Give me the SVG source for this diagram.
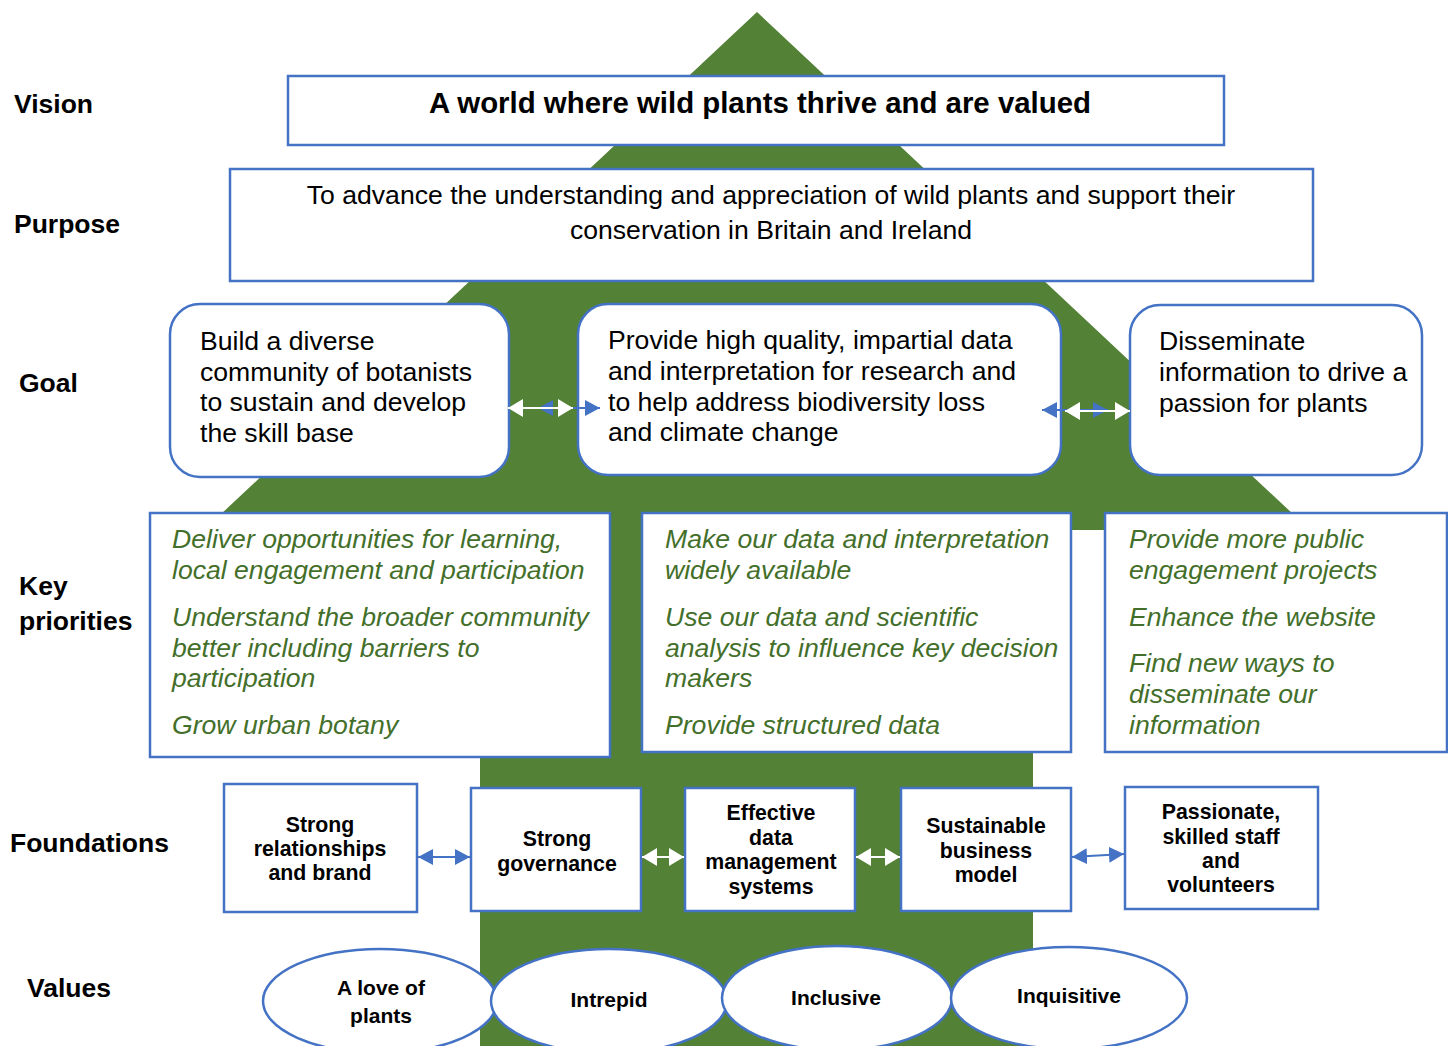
<svg xmlns="http://www.w3.org/2000/svg" width="1448" height="1046" viewBox="0 0 1448 1046">
  <style>
    .box { fill: #ffffff; stroke: #4472C4; stroke-width: 2.5; }
    .lbl { font-family: "Liberation Sans", Arial, sans-serif; font-weight: bold; font-size: 26.5px; fill: #000; }
    .vis { font-family: "Liberation Sans", Arial, sans-serif; font-weight: bold; font-size: 29.4px; fill: #000; text-anchor: middle; }
    .txt { font-family: "Liberation Sans", Arial, sans-serif; font-size: 26.6px; fill: #000; }
    .pri { font-family: "Liberation Sans", Arial, sans-serif; font-style: italic; font-size: 26.6px; fill: #436F2A; }
    .fnd { font-family: "Liberation Sans", Arial, sans-serif; font-weight: bold; font-size: 21.3px; fill: #000; text-anchor: middle; }
    .val { font-family: "Liberation Sans", Arial, sans-serif; font-weight: bold; font-size: 21px; fill: #000; text-anchor: middle; }
    .blue { stroke: #4472C4; stroke-width: 2; fill: none; }
    .white { stroke: #ffffff; stroke-width: 2; fill: none; }
  </style>
  <defs>
    <marker id="headBlue" markerUnits="userSpaceOnUse" markerWidth="16" markerHeight="16" refX="15" refY="8" orient="auto-start-reverse">
      <path d="M0,0 L15,8 L0,16 z" fill="#4472C4"/>
    </marker>
    <marker id="headWhite" markerUnits="userSpaceOnUse" markerWidth="16" markerHeight="18" refX="15" refY="9" orient="auto-start-reverse">
      <path d="M0,0 L15,9 L0,18 z" fill="#ffffff"/>
    </marker>
  </defs>

  <rect width="1448" height="1046" fill="#ffffff"/>

  <!-- tree silhouette: crown and trunk -->
  <polygon id="tree" points="757,12 1310,530 1033,530 1033,1046 480,1046 480,530 204,530" fill="#538135"/>

  <!-- row labels -->
  <g id="labels">
    <text class="lbl" x="14" y="113">Vision</text>
    <text class="lbl" x="14" y="233">Purpose</text>
    <text class="lbl" x="19" y="392">Goal</text>
    <text class="lbl" x="19" y="595">Key</text>
    <text class="lbl" x="19" y="630">priorities</text>
    <text class="lbl" x="10" y="852">Foundations</text>
    <text class="lbl" x="27" y="997">Values</text>
  </g>

  <g id="vision">
    <rect class="box" x="288" y="76" width="936" height="69"/>
    <text class="vis" x="760" y="113">A world where wild plants thrive and are valued</text>
  </g>

  <g id="purpose">
    <rect class="box" x="230" y="169" width="1083" height="112"/>
    <text class="txt" x="771" y="204" text-anchor="middle">To advance the understanding and appreciation of wild plants and support their</text>
    <text class="txt" x="771" y="239" text-anchor="middle">conservation in Britain and Ireland</text>
  </g>

  <g id="goal-community">
    <rect class="box" x="170" y="304" width="339" height="173" rx="30"/>
    <text class="txt" x="200" y="350">Build a diverse</text>
    <text class="txt" x="200" y="381">community of botanists</text>
    <text class="txt" x="200" y="411">to sustain and develop</text>
    <text class="txt" x="200" y="442">the skill base</text>
  </g>

  <g id="goal-data">
    <rect class="box" x="578" y="304" width="483" height="171" rx="30"/>
    <text class="txt" x="608" y="349">Provide high quality, impartial data</text>
    <text class="txt" x="608" y="380">and interpretation for research and</text>
    <text class="txt" x="608" y="411">to help address biodiversity loss</text>
    <text class="txt" x="608" y="441">and climate change</text>
  </g>

  <g id="goal-disseminate">
    <rect class="box" x="1130" y="305" width="292" height="170" rx="30"/>
    <text class="txt" x="1159" y="350">Disseminate</text>
    <text class="txt" x="1159" y="381">information to drive a</text>
    <text class="txt" x="1159" y="412">passion for plants</text>
  </g>

  <g id="priorities-community">
    <rect class="box" x="150" y="513" width="460" height="244"/>
    <text class="pri" x="172" y="548">Deliver opportunities for learning,</text>
    <text class="pri" x="172" y="579">local engagement and participation</text>
    <text class="pri" x="172" y="626">Understand the broader community</text>
    <text class="pri" x="172" y="657">better including barriers to</text>
    <text class="pri" x="172" y="687">participation</text>
    <text class="pri" x="172" y="734">Grow urban botany</text>
  </g>

  <g id="priorities-data">
    <rect class="box" x="642" y="513" width="429" height="239"/>
    <text class="pri" x="665" y="548">Make our data and interpretation</text>
    <text class="pri" x="665" y="579">widely available</text>
    <text class="pri" x="665" y="626">Use our data and scientific</text>
    <text class="pri" x="665" y="657">analysis to influence key decision</text>
    <text class="pri" x="665" y="687">makers</text>
    <text class="pri" x="665" y="734">Provide structured data</text>
  </g>

  <g id="priorities-public">
    <rect class="box" x="1105" y="513" width="342" height="239"/>
    <text class="pri" x="1129" y="548">Provide more public</text>
    <text class="pri" x="1129" y="579">engagement projects</text>
    <text class="pri" x="1129" y="626">Enhance the website</text>
    <text class="pri" x="1129" y="672">Find new ways to</text>
    <text class="pri" x="1129" y="703">disseminate our</text>
    <text class="pri" x="1129" y="734">information</text>
  </g>

  <g id="foundation-relationships">
    <rect class="box" x="224" y="784" width="193" height="128"/>
    <text class="fnd" x="320" y="832">Strong</text>
    <text class="fnd" x="320" y="856">relationships</text>
    <text class="fnd" x="320" y="880">and brand</text>
  </g>

  <g id="foundation-governance">
    <rect class="box" x="471" y="788" width="170" height="123"/>
    <text class="fnd" x="557" y="846">Strong</text>
    <text class="fnd" x="557" y="871">governance</text>
  </g>

  <g id="foundation-data">
    <rect class="box" x="685" y="788" width="170" height="123"/>
    <text class="fnd" x="771" y="820">Effective</text>
    <text class="fnd" x="771" y="845">data</text>
    <text class="fnd" x="771" y="869">management</text>
    <text class="fnd" x="771" y="894">systems</text>
  </g>

  <g id="foundation-business">
    <rect class="box" x="901" y="788" width="170" height="123"/>
    <text class="fnd" x="986" y="833">Sustainable</text>
    <text class="fnd" x="986" y="858">business</text>
    <text class="fnd" x="986" y="882">model</text>
  </g>

  <g id="foundation-people">
    <rect class="box" x="1125" y="787" width="193" height="122"/>
    <text class="fnd" x="1221" y="819">Passionate,</text>
    <text class="fnd" x="1221" y="844">skilled staff</text>
    <text class="fnd" x="1221" y="868">and</text>
    <text class="fnd" x="1221" y="892">volunteers</text>
  </g>

  <g id="value-love">
    <ellipse class="box" cx="380" cy="1001" rx="117" ry="52"/>
    <text class="val" x="381" y="995">A love of</text>
    <text class="val" x="381" y="1023">plants</text>
  </g>

  <g id="value-intrepid">
    <ellipse class="box" cx="609" cy="1001" rx="118" ry="52"/>
    <text class="val" x="609" y="1007">Intrepid</text>
  </g>

  <g id="value-inclusive">
    <ellipse class="box" cx="837" cy="998" rx="115" ry="52"/>
    <text class="val" x="836" y="1005">Inclusive</text>
  </g>

  <g id="value-inquisitive">
    <ellipse class="box" cx="1069" cy="998" rx="118" ry="51"/>
    <text class="val" x="1069" y="1003">Inquisitive</text>
  </g>

  <!-- double-headed connectors -->
  <g id="connectors">
    <line class="blue" x1="538" y1="408" x2="600" y2="408" marker-start="url(#headBlue)" marker-end="url(#headBlue)"/>
    <line class="white" x1="508" y1="408" x2="573" y2="408" marker-start="url(#headWhite)" marker-end="url(#headWhite)"/>
    <line class="blue" x1="1042" y1="410" x2="1108" y2="410" marker-start="url(#headBlue)" marker-end="url(#headBlue)"/>
    <line class="white" x1="1065" y1="411" x2="1130" y2="411" marker-start="url(#headWhite)" marker-end="url(#headWhite)"/>
    <line class="blue" x1="418" y1="857" x2="470" y2="857" marker-start="url(#headBlue)" marker-end="url(#headBlue)"/>
    <line class="white" x1="642" y1="857" x2="684" y2="857" marker-start="url(#headWhite)" marker-end="url(#headWhite)"/>
    <line class="white" x1="856" y1="857" x2="900" y2="857" marker-start="url(#headWhite)" marker-end="url(#headWhite)"/>
    <line class="blue" x1="1072" y1="857" x2="1124" y2="854" marker-start="url(#headBlue)" marker-end="url(#headBlue)"/>
  </g>
</svg>
